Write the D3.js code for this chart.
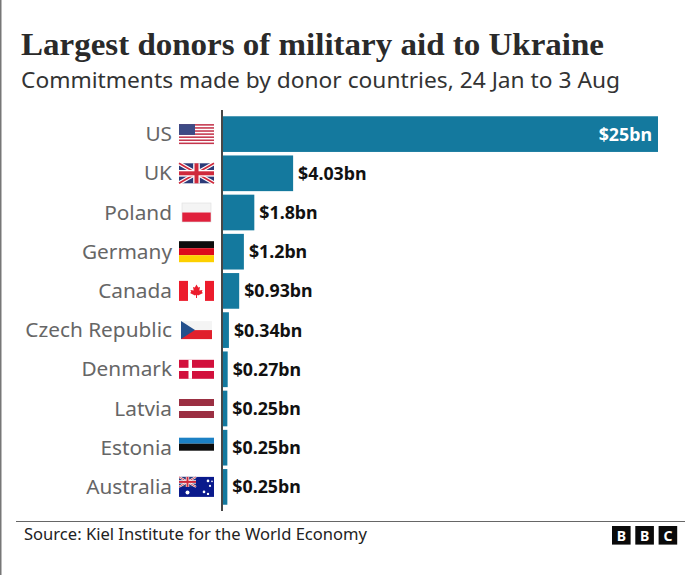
<!DOCTYPE html>
<html><head><meta charset="utf-8">
<script src="https://cdn.jsdelivr.net/npm/d3@7"></script>
<style>html,body{margin:0;padding:0;background:#fff}svg{display:block}</style>
</head><body><div id="c"></div>
<script>
const countries=["US","UK","Poland","Germany","Canada","Czech Republic","Denmark","Latvia","Estonia","Australia"];
const values=[25,4.03,1.8,1.2,0.93,0.34,0.27,0.25,0.25,0.25];
const valueLabels=["$25bn","$4.03bn","$1.8bn","$1.2bn","$0.93bn","$0.34bn","$0.27bn","$0.25bn","$0.25bn","$0.25bn"];
const titleText="Largest donors of military aid to Ukraine";
const subtitleText="Commitments made by donor countries, 24 Jan to 3 Aug";
const sourceText="Source: Kiel Institute for the World Economy";

const W=700,H=575,sans="'Noto Sans','Open Sans',sans-serif";
const svg=d3.select("#c").append("svg").attr("width",W).attr("height",H);
svg.append("rect").attr("width",W).attr("height",H).attr("fill","#fff");
svg.append("rect").attr("x",0).attr("y",0).attr("width",1.5).attr("height",H).attr("fill","#777");

svg.append("text").attr("x",21).attr("y",55).attr("font-family","'Liberation Serif',serif").attr("font-weight",700)
 .attr("font-size",32).attr("fill","#2a2a2a").attr("textLength",583).attr("lengthAdjust","spacingAndGlyphs").text(titleText);
svg.append("text").attr("x",21).attr("y",88).attr("font-family",sans)
 .attr("font-size",22).attr("fill","#333").attr("textLength",599).attr("lengthAdjust","spacingAndGlyphs").text(subtitleText);

const x=d3.scaleLinear().domain([0,25]).range([223,658]);
const y=d3.scaleBand().domain(countries).range([114.5,506.5]).paddingInner(0.09).paddingOuter(0.045);

svg.selectAll("rect.bar").data(countries).join("rect").attr("class","bar")
 .attr("x",x(0)).attr("y",d=>y(d)).attr("height",y.bandwidth())
 .attr("width",(d,i)=>x(values[i])-x(0)).attr("fill","#14799e");

svg.append("line").attr("x1",222).attr("x2",222).attr("y1",110).attr("y2",511).attr("stroke","#333").attr("stroke-width",1.8);

svg.selectAll("text.cat").data(countries).join("text").attr("class","cat")
 .attr("x",172).attr("y",d=>y(d)+y.bandwidth()/2+7).attr("text-anchor","end")
 .attr("font-family",sans).attr("font-size",20.8).attr("fill","#666").text(d=>d);

svg.selectAll("text.val").data(countries).join("text").attr("class","val")
 .attr("x",(d,i)=>i===0?x(values[0])-6:x(values[i])+5)
 .attr("y",d=>y(d)+y.bandwidth()/2+6.5).attr("text-anchor",(d,i)=>i===0?"end":"start")
 .attr("font-family",sans).attr("font-weight",700).attr("font-size",17.8)
 .attr("fill",(d,i)=>i===0?"#fff":"#111").text((d,i)=>valueLabels[i]);

// flags, each drawn in a 35 x 20 box
const R=(g,a,b,c,d,f)=>g.append("rect").attr("x",a).attr("y",b).attr("width",c).attr("height",d).attr("fill",f);
const P=(g,pts,f)=>g.append("polygon").attr("points",pts).attr("fill",f);
const L=(g,a,b,c,d,s,w)=>g.append("line").attr("x1",a).attr("y1",b).attr("x2",c).attr("y2",d).attr("stroke",s).attr("stroke-width",w);
const union=(g,w,h)=>{
 R(g,0,0,w,h,"#2b3a78");
 L(g,0,0,w,h,"#fff",h/5);L(g,w,0,0,h,"#fff",h/5);
 L(g,0,0,w,h,"#cf2a3c",h/12);L(g,w,0,0,h,"#cf2a3c",h/12);
 R(g,w/2-h/6,0,h/3,h,"#fff");R(g,0,h/3,w,h/3,"#fff");
 R(g,w/2-h/10,0,h/5,h,"#cf2a3c");R(g,0,h*0.4,w,h/5,"#cf2a3c");
};
const flags={
 "US":g=>{R(g,0,0,35,20,"#fff");d3.range(0,13,2).forEach(i=>R(g,0,i*20/13,35,20/13,"#c4354c"));R(g,0,0,16,10.8,"#3d4a85");},
 "UK":g=>union(g,35,20),
 "Poland":g=>{R(g,3,0,29,9.5,"#f4f4f4");R(g,3,9.5,29,9.5,"#e0203c");g.append("rect").attr("x",3).attr("y",0).attr("width",29).attr("height",19).attr("fill","none").attr("stroke","#ddd").attr("stroke-width",.6);},
 "Germany":g=>{R(g,0,0,35,7,"#0c0c0c");R(g,0,7,35,7,"#dd0a1c");R(g,0,14,35,7,"#fdd000");},
 "Canada":g=>{R(g,0,0,35,20,"#fff");R(g,0,0,9,20,"#ec1c2c");R(g,26,0,9,20,"#ec1c2c");
  P(g,"17.5,3.5 19.2,6.5 21,6 20.3,9.5 23.5,9 22.8,11 24,12 19,14.5 18,13.8 18,17 17,17 17,13.8 16,14.5 11,12 12.2,11 11.5,9 14.7,9.5 14,6 15.8,6.5","#ec1c2c");},
 "Czech Republic":g=>{R(g,2,0,31,9,"#f4f4f4");R(g,2,9,31,9,"#e0202c");P(g,"2,0 16,9 2,18","#24508c");},
 "Denmark":g=>{R(g,0,0,35,19,"#d2103c");R(g,9.5,0,3.5,19,"#fff");R(g,0,8,35,3.2,"#fff");},
 "Latvia":g=>{R(g,0,0,35,7,"#9b2f42");R(g,0,12,35,7,"#9b2f42");},
 "Estonia":g=>{R(g,0,0,35,6,"#1c80c4");R(g,0,6,35,7,"#0c0c0c");},
 "Australia":g=>{R(g,0,0,35,20,"#0a1a8c");union(g.append("g"),17,10);
  [[8.5,15.5,2],[25,15,1.3],[29,4,1.3],[31,9,1.1],[33,4.5,.8],[29,17,1.2]].forEach(s=>g.append("circle").attr("cx",s[0]).attr("cy",s[1]).attr("r",s[2]).attr("fill","#fff"));}
};
const flagDy={"Poland":-9.5,"Czech Republic":-9,"Estonia":-10,"Germany":-10.5,"Denmark":-9.5,"Latvia":-9.5};
countries.forEach(c=>{
 const g=svg.append("g").attr("transform",`translate(179,${y(c)+y.bandwidth()/2+(flagDy[c]??-10)})`);
 flags[c](g);
});

svg.append("line").attr("x1",16).attr("x2",685).attr("y1",521.5).attr("y2",521.5).attr("stroke","#666").attr("stroke-width",1.2);
svg.append("text").attr("x",24).attr("y",540).attr("font-family",sans).attr("font-size",16.5).attr("fill","#222")
 .attr("textLength",343).attr("lengthAdjust","spacingAndGlyphs").text(sourceText);
["B","B","C"].forEach((t,i)=>{
 const bx=612+i*23.3;
 svg.append("rect").attr("x",bx).attr("y",526).attr("width",18.6).attr("height",18.6).attr("fill","#0a0a0a");
 svg.append("text").attr("x",bx+9.3).attr("y",540.5).attr("text-anchor","middle").attr("font-family",sans).attr("font-weight",700).attr("font-size",14).attr("fill","#fff").text(t);
});
</script></body></html>
